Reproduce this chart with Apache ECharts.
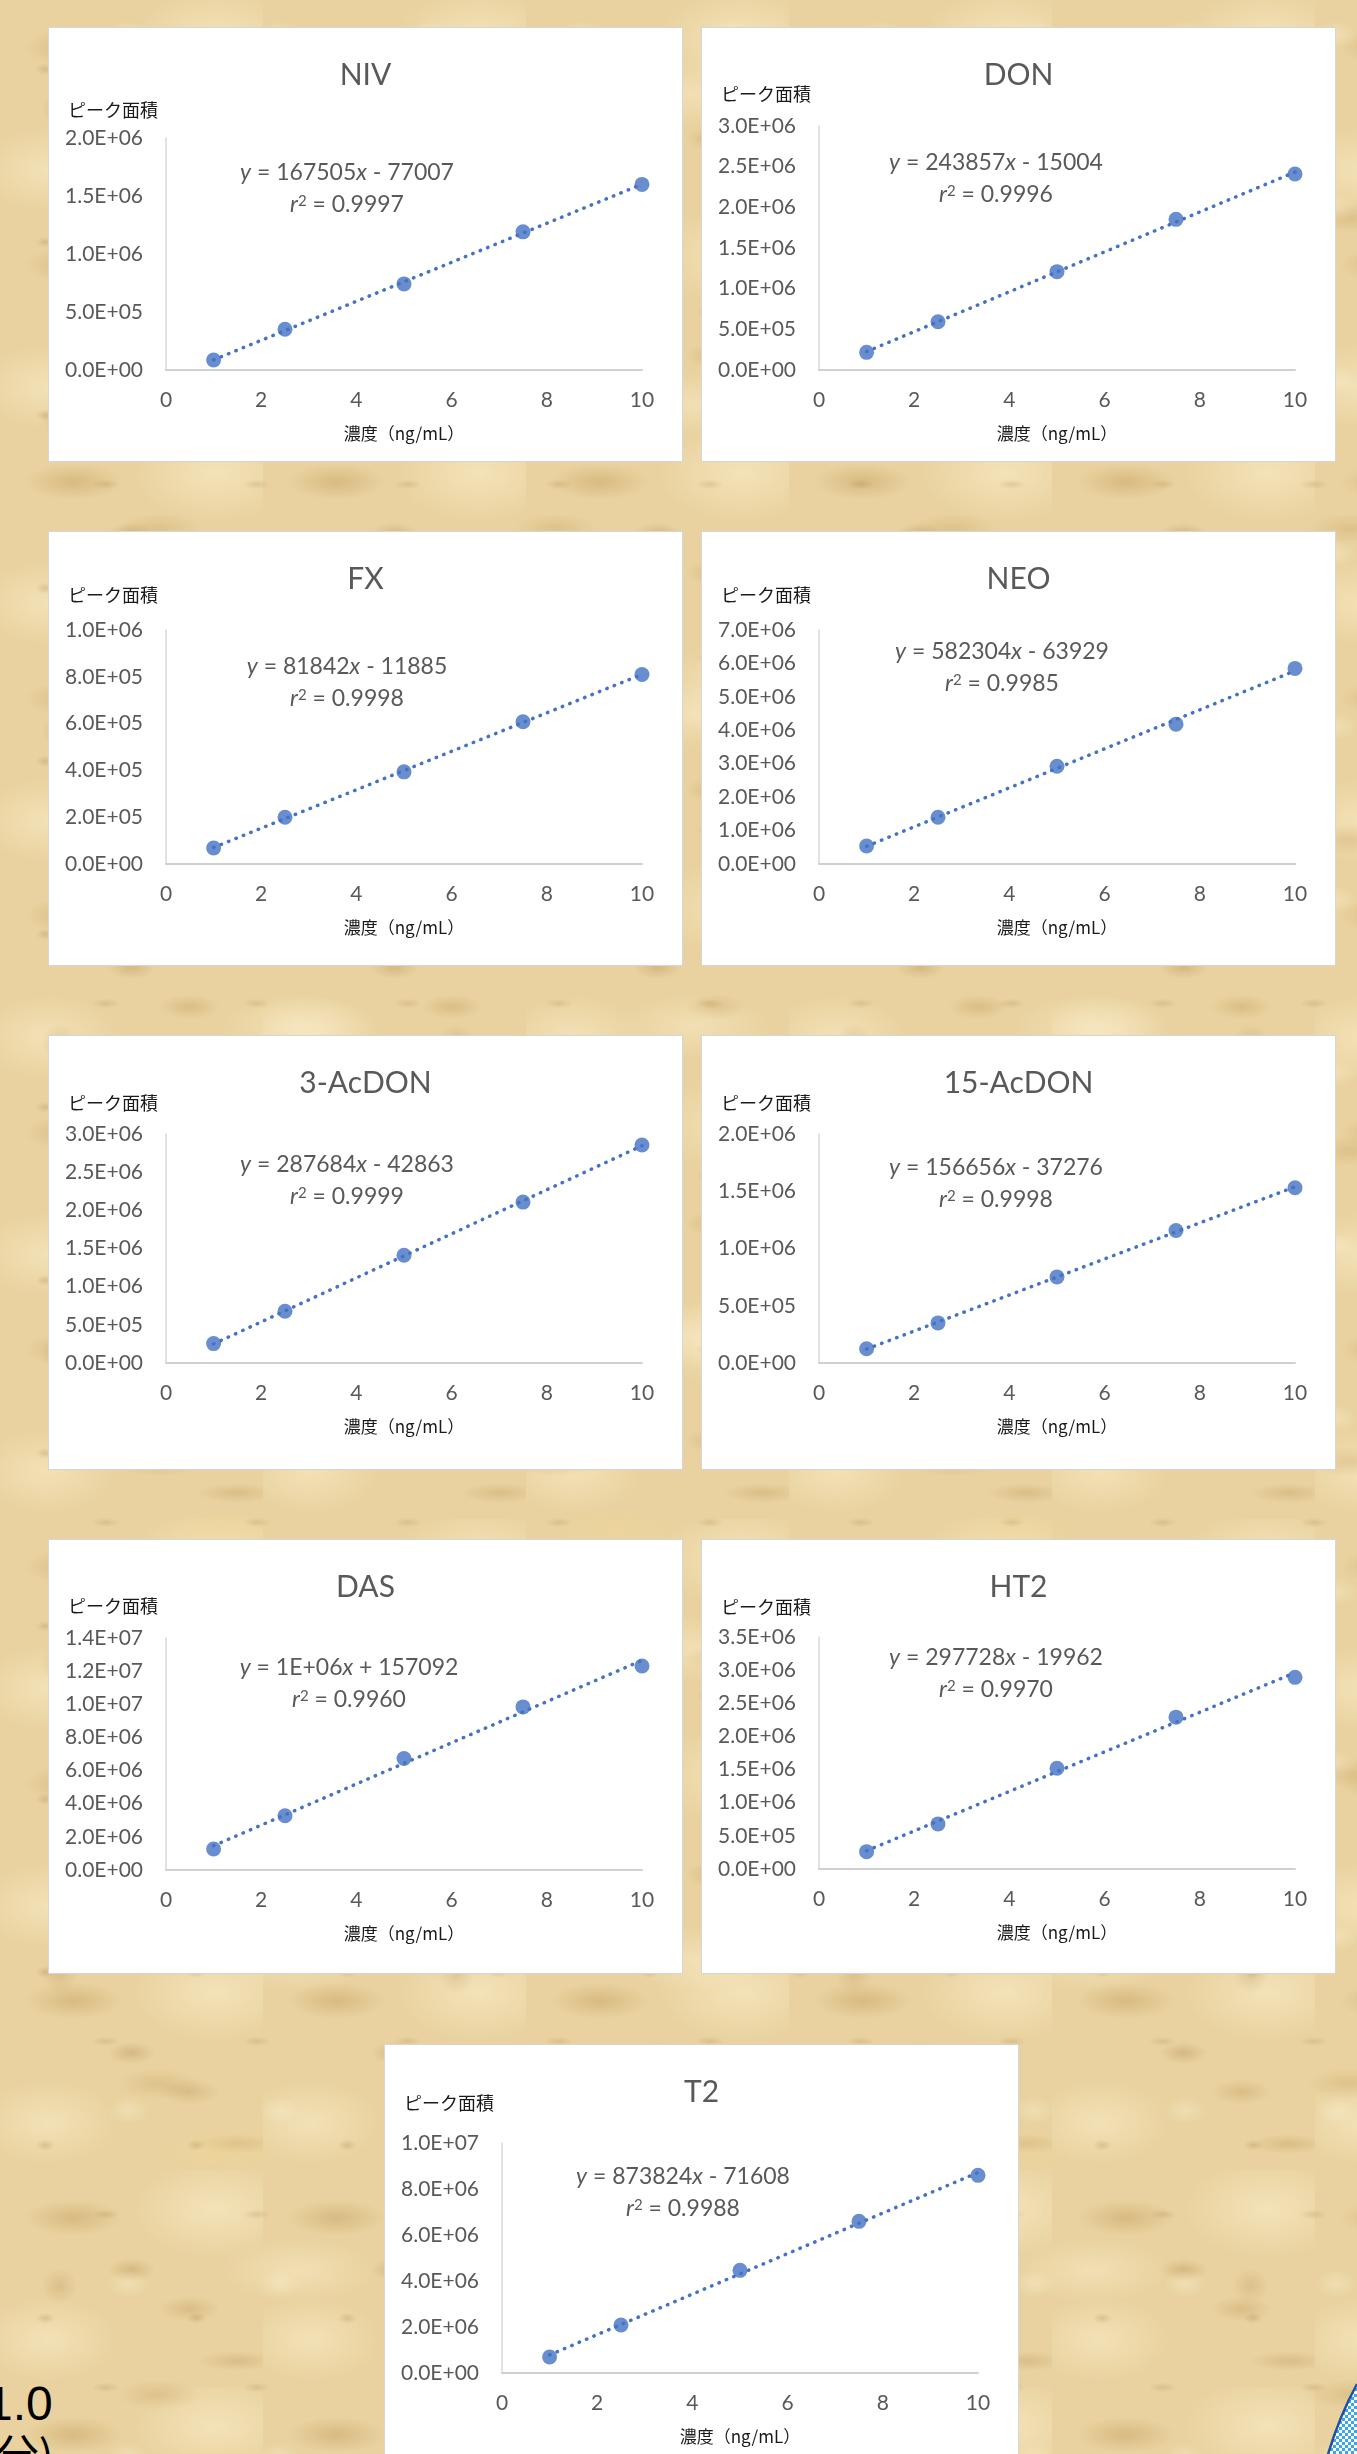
<!DOCTYPE html>
<html lang="ja">
<head>
<meta charset="utf-8">
<title>検量線</title>
<script src="https://cdn.jsdelivr.net/npm/echarts@6.0.0/dist/echarts.min.js"></script>
<style>
  html, body { margin: 0; padding: 0; }
  body {
    width: 1357px;
    height: 2454px;
    overflow: hidden;
    position: relative;
    background-color: #e9d29f;
    background-image:
      radial-gradient(ellipse 70px 26px at 28% 22%, rgba(178, 130, 62, 0.30), transparent 70%),
      radial-gradient(ellipse 44px 18px at 72% 64%, rgba(178, 130, 62, 0.26), transparent 70%),
      radial-gradient(ellipse 120px 70px at 82% 18%, rgba(252, 240, 206, 0.55), transparent 70%),
      radial-gradient(ellipse 100px 60px at 18% 78%, rgba(252, 240, 206, 0.5), transparent 70%),
      radial-gradient(ellipse 34px 16px at 50% 46%, rgba(160, 112, 50, 0.26), transparent 70%),
      radial-gradient(ellipse 56px 14px at 90% 88%, rgba(170, 122, 58, 0.24), transparent 70%);
    background-size: 263px 217px;
  }
  body::before, body::after {
    content: '';
    position: absolute;
    inset: 0;
    z-index: 0;
  }
  body::before {
    background-image:
      radial-gradient(ellipse 60px 22px at 40% 70%, rgba(182, 134, 64, 0.22), transparent 70%),
      radial-gradient(ellipse 110px 46px at 75% 30%, rgba(255, 244, 214, 0.38), transparent 70%),
      radial-gradient(ellipse 26px 26px at 15% 35%, rgba(168, 120, 54, 0.2), transparent 70%),
      radial-gradient(ellipse 90px 30px at 55% 92%, rgba(240, 214, 150, 0.45), transparent 70%);
    background-size: 397px 311px;
  }
  body::after {
    background-image:
      radial-gradient(ellipse 14px 8px at 30% 40%, rgba(150, 105, 45, 0.22), transparent 70%),
      radial-gradient(ellipse 20px 7px at 70% 80%, rgba(150, 105, 45, 0.18), transparent 70%),
      radial-gradient(ellipse 30px 20px at 85% 20%, rgba(255, 248, 224, 0.3), transparent 70%);
    background-size: 151px 173px;
  }
  #charts, .note, .corner { position: absolute; z-index: 1; }
  #charts { left: 0; top: 0; }
  .panel {
    position: absolute;
    width: 635px;
    height: 435px;
    box-sizing: border-box;
    background: #fff;
    border: 1px solid #d6d6d6;
  }
  .panel .chart { width: 633px; height: 433px; }
  .note {
    color: #000;
    white-space: nowrap;
  }
</style>
</head>
<body>
<div id="charts"></div>
<div class="note" style="left:-14px; top:2376px; font-size:48px; line-height:56px; font-family:'Liberation Sans', Arial, sans-serif;">1.0</div>
<div class="note" style="left:-20px; top:2426px; font-size:44px; line-height:54px; font-family:'Noto Sans CJK JP', sans-serif;">(分)</div>
<svg class="corner" style="left:1300px; top:2370px;" width="57" height="84" viewBox="0 0 57 84">
  <defs>
    <pattern id="checks" width="6" height="6" patternUnits="userSpaceOnUse">
      <rect width="6" height="6" fill="#ffffff"/>
      <rect width="3" height="3" fill="#3aa6ee"/>
      <rect x="3" y="3" width="3" height="3" fill="#3aa6ee"/>
    </pattern>
  </defs>
  <path d="M57 14 Q40 45 28 84 L57 84 Z" fill="url(#checks)"/>
  <path d="M57 14 Q40 45 28 84" fill="none" stroke="#1f4f9f" stroke-width="2.5"/>
</svg>

<script>
// 濃度 (ng/mL)
const concentrations = [1, 2.5, 5, 7.5, 10];

// ピーク面積
const niv = [86000, 351000, 742000, 1191000, 1600000];
const don = [217000, 594000, 1209000, 1852000, 2410000];
const fx = [68500, 199700, 393700, 607700, 810000];
const neo = [539000, 1398000, 2926000, 4184000, 5852000];
const acdon3 = [254000, 678000, 1412000, 2108000, 2856000];
const acdon15 = [125000, 350000, 752000, 1157000, 1531000];
const das = [1265000, 3274000, 6729000, 9842000, 12310000];
const ht2 = [262000, 680000, 1521000, 2291000, 2891000];
const t2 = [696000, 2087000, 4464000, 6594000, 8594000];

const titles = ['NIV', 'DON', 'FX', 'NEO', '3-AcDON', '15-AcDON', 'DAS', 'HT2', 'T2'];
const peakAreas = [niv, don, fx, neo, acdon3, acdon15, das, ht2, t2];

// 近似式ラベル (as printed)
const eqSlope = ['167505', '243857', '81842', '582304', '287684', '156656', '1E+06', '297728', '873824'];
const eqIntercept = ['- 77007', '- 15004', '- 11885', '- 63929', '- 42863', '- 37276', '+ 157092', '- 19962', '- 71608'];
const eqR2 = ['0.9997', '0.9996', '0.9998', '0.9985', '0.9999', '0.9998', '0.9960', '0.9970', '0.9988'];

// y axis ticks
const yMax = [2e6, 3e6, 1e6, 7e6, 3e6, 2e6, 1.4e7, 3.5e6, 1e7];
const yStep = [5e5, 5e5, 2e5, 1e6, 5e5, 5e5, 2e6, 5e5, 2e6];

// layout (page px / panel px)
const panelPos = [[48, 27], [701, 27], [48, 531], [701, 531], [48, 1035], [701, 1035], [48, 1539], [701, 1539], [384, 2044]];
const plotTop = [111, 99, 99, 99, 99, 99, 99, 98, 99];
const plotBottom = [343, 343, 333, 333, 328, 328, 331, 330, 329];
const yNameY = [83, 67, 64, 64, 68, 68, 67, 68, 59];
const eqPos = [[299, 146], [295, 136], [299, 136], [301, 121], [299, 130], [295, 133], [301, 129], [295, 119], [299, 133]];

const blue = '#4472C4';
const grey = '#595959';

function sci(v) {
  if (v === 0) return '0.0E+00';
  let e = Math.floor(Math.log10(Math.abs(v)) + 1e-9);
  let m = v / Math.pow(10, e);
  return m.toFixed(1) + 'E' + (e < 0 ? '-' : '+') + String(Math.abs(e)).padStart(2, '0');
}

// least squares line through the points, drawn over the data range like Excel
function trendLine(xs, ys) {
  let n = xs.length;
  let mx = xs.reduce((a, b) => a + b, 0) / n;
  let my = ys.reduce((a, b) => a + b, 0) / n;
  let sxy = 0, sxx = 0;
  for (var i = 0; i < n; i++) {
    sxy += (xs[i] - mx) * (ys[i] - my);
    sxx += (xs[i] - mx) * (xs[i] - mx);
  }
  let a = sxy / sxx;
  let b = my - a * mx;
  let x0 = Math.min(...xs), x1 = Math.max(...xs);
  return [[x0, a * x0 + b], [x1, a * x1 + b]];
}

const eqRich = {
  i: { font: 'italic 23px Lato', fill: grey },
  s: { font: '15px Lato', fill: grey, verticalAlign: 'top' }
};

function buildOption(i) {
  let pts = concentrations.map((x, k) => [x, peakAreas[i][k]]);
  let ex = eqPos[i][0] - 1, ey = eqPos[i][1] - 1;
  return {
    animation: false,
    title: {
      text: titles[i],
      left: 'center',
      top: 27,
      textStyle: { fontFamily: 'Lato', fontSize: 30, fontWeight: 'normal', color: grey }
    },
    grid: {
      left: 117,
      right: 40,
      top: plotTop[i] - 1,
      bottom: 434 - plotBottom[i],
      outerBoundsMode: 'none'
    },
    xAxis: {
      type: 'value',
      min: 0,
      max: 10,
      interval: 2,
      axisLine: { show: true, onZero: false, lineStyle: { color: '#d0d0d0', width: 2 } },
      axisTick: { show: false },
      splitLine: { show: false },
      axisLabel: { color: grey, fontFamily: 'Lato', fontSize: 21, margin: 20 },
      name: '濃度（ng/mL）',
      nameLocation: 'middle',
      nameGap: 55,
      nameTextStyle: { fontFamily: 'Noto Sans CJK JP', fontSize: 17, color: '#1a1a1a' }
    },
    yAxis: {
      type: 'value',
      min: 0,
      max: yMax[i],
      interval: yStep[i],
      axisLine: { show: true, lineStyle: { color: '#d9d9d9', width: 1.5 } },
      axisTick: { show: false },
      splitLine: { show: false },
      axisLabel: { formatter: sci, color: grey, fontFamily: 'Lato', fontSize: 21, margin: 23 }
    },
    graphic: [
      {
        type: 'text',
        x: 19,
        y: yNameY[i] - 1,
        style: {
          text: 'ピーク面積',
          font: '18px "Noto Sans CJK JP"',
          fill: '#1a1a1a',
          align: 'left',
          verticalAlign: 'middle'
        }
      },
      {
        type: 'text',
        x: ex,
        y: ey,
        style: {
          text: '{i|y} = ' + eqSlope[i] + '{i|x} ' + eqIntercept[i],
          font: '23px Lato',
          fill: grey,
          align: 'center',
          verticalAlign: 'middle',
          rich: eqRich
        }
      },
      {
        type: 'text',
        x: ex,
        y: ey + 32,
        style: {
          text: '{i|r}{s|2} = ' + eqR2[i],
          font: '23px Lato',
          fill: grey,
          align: 'center',
          verticalAlign: 'middle',
          rich: eqRich
        }
      }
    ],
    series: [
      {
        name: '線形近似',
        type: 'line',
        data: trendLine(concentrations, peakAreas[i]),
        showSymbol: false,
        silent: true,
        lineStyle: { color: blue, width: 3.5, type: [0.5, 7.5], cap: 'round' }
      },
      {
        name: titles[i],
        type: 'scatter',
        data: pts,
        symbolSize: 15,
        itemStyle: { color: blue }
      }
    ]
  };
}

const holder = document.getElementById('charts');
for (var i = 0; i < titles.length; i++) {
  let panel = document.createElement('div');
  panel.className = 'panel';
  panel.style.left = panelPos[i][0] + 'px';
  panel.style.top = panelPos[i][1] + 'px';
  let ele = document.createElement('div');
  ele.className = 'chart';
  panel.appendChild(ele);
  holder.appendChild(panel);
  let myChart = echarts.init(ele);
  myChart.setOption(buildOption(i));
}
</script>
</body>
</html>
